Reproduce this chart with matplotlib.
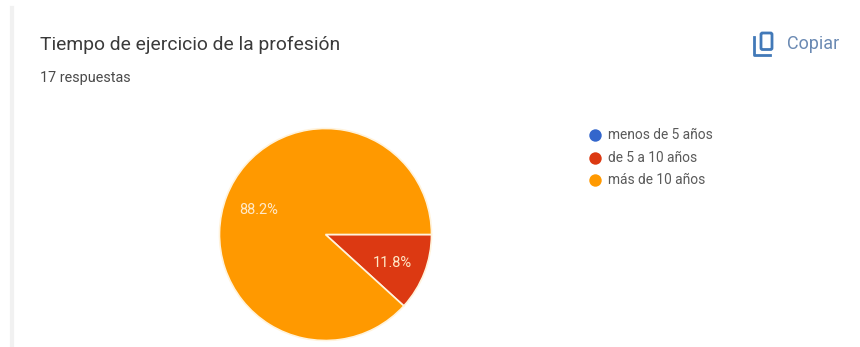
import matplotlib
matplotlib.use('Agg')
import matplotlib.pyplot as plt
from matplotlib.patches import FancyBboxPatch

categories = ['menos de 5 años', 'de 5 a 10 años', 'más de 10 años']
values = [0, 2, 15]
colors = ['#3366cc', '#dc3912', '#ff9900']
title = 'Tiempo de ejercicio de la profesión'
subtitle = '17 respuestas'

H = 347
plt.rcParams['font.family'] = 'Roboto'

fig = plt.figure(figsize=(8.6, 3.47), dpi=100)
ax = fig.add_axes([0, 0, 1, 1])


def pct(p):
    return '' if p == 0 else '%.1f%%' % p


wedges, texts, autotexts = ax.pie(
    values, colors=colors, center=(325.5, H - 234.5), radius=106,
    startangle=0, counterclock=False, autopct=pct, pctdistance=0.68,
    wedgeprops={'edgecolor': '#fff3dc', 'linewidth': 1.2},
    textprops={'color': '#ffe9c8', 'fontsize': 10.5}, frame=True)
for t in autotexts:
    x, y = t.get_position()
    t.set_position((x, y - 2))
ax.set_xlim(0, 860)
ax.set_ylim(0, H)
ax.set_aspect('equal')
ax.axis('off')

# card edge
ax.plot([12, 12], [H - 8, 0], color='#f1f1f1', lw=3)

ax.text(40, H - 45, title, fontsize=13.9, color='#3a3a3a', va='center')
ax.text(40, H - 78, subtitle, fontsize=10.4, color='#4a4a4a', va='center')

# legend
for i, name in enumerate(categories):
    y = H - (135 + 22.5 * i)
    ax.scatter([595], [y], s=80, color=colors[i], linewidths=0)
    ax.text(608, y, name, fontsize=9.9, color='#5a5a5a', va='center')

# copy icon
blue = '#4279b8'
ax.add_patch(FancyBboxPatch((761, H - 49.5), 11, 16.5, boxstyle='round,pad=0,rounding_size=1.5',
                            fill=False, edgecolor=blue, lw=2))
ax.plot([754, 754, 770], [H - 37, H - 54.5, H - 54.5], color=blue, lw=2)
ax.text(787, H - 44, 'Copiar', fontsize=13, color='#6b8ab3', va='center')

fig.savefig('out.png', dpi=100)
